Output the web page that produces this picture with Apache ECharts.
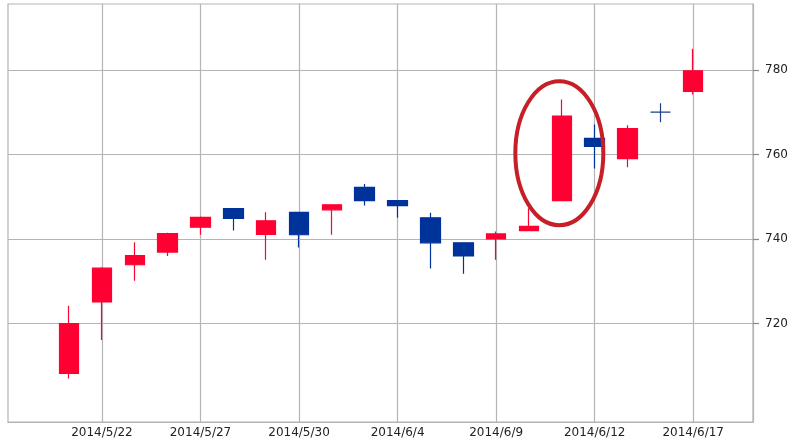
<!DOCTYPE html>
<html>
<head>
<meta charset="utf-8">
<script src="https://cdn.jsdelivr.net/npm/echarts@6/dist/echarts.min.js"></script>
<style>html,body{margin:0;padding:0;background:#fff}#c{width:800px;height:447px}</style>
</head>
<body>
<div id="c"></div>
<script>
// ---- data ----
var dates = ['2014/5/21','2014/5/22','2014/5/23','2014/5/26','2014/5/27','2014/5/28','2014/5/29','2014/5/30',
             '2014/6/2','2014/6/3','2014/6/4','2014/6/5','2014/6/6','2014/6/9','2014/6/10','2014/6/11',
             '2014/6/12','2014/6/13','2014/6/16','2014/6/17'];
var opens  = [708.2,725.1,733.9,736.9,742.8,747.2,741.1,746.3,746.9,752.2,749.1,745.0,739.1,740.0,742.0,749.1,763.8,759.0,770.0,774.9];
var closes = [720.0,733.1,736.1,741.3,745.1,744.9,744.3,741.0,748.1,749.1,747.9,739.1,736.0,741.2,743.0,769.1,761.9,766.1,770.0,779.8];
var lows   = [707.0,716.1,730.1,736.0,741.0,742.0,735.1,738.0,741.0,747.9,745.0,733.0,731.8,735.1,741.9,749.0,756.7,757.0,767.6,774.2];
var highs  = [724.2,733.3,739.2,741.5,745.3,747.3,746.3,746.4,748.2,753.0,749.2,746.2,739.2,741.8,747.3,773.0,767.1,766.9,772.1,785.0];
var xTickIndex = [1,4,7,10,13,16,19];
var yTicks = [720,740,760,780];
// highlighted candle (annotation)
var markIndex = 15;
var markValue = 760.3;

var candleData = [];
for (var i = 0; i < dates.length; i++) {
  candleData.push([i, opens[i], closes[i], lows[i], highs[i]]);
}

var chart = echarts.init(document.getElementById('c'), null, {renderer: 'canvas'});
var gridColor = '#b4b4b4';
var option = {
  animation: false,
  backgroundColor: '#ffffff',
  grid: {left: 8, right: 47, top: 4, bottom: 25, show: true, borderColor: gridColor, borderWidth: 1.2, backgroundColor: 'transparent'},
  xAxis: {
    type: 'value', min: -1.86, max: 20.82,
    axisLine: {show: true, onZero: false, lineStyle: {color: gridColor, width: 1.2}},
    axisTick: {show: false, customValues: xTickIndex},
    axisLabel: {customValues: xTickIndex, color: '#222', fontFamily: 'DejaVu Sans', fontSize: 12, margin: 5,
      formatter: function (v) { return dates[Math.round(v)] || ''; }},
    splitLine: {show: true, lineStyle: {color: gridColor, width: 1.2}}
  },
  yAxis: {
    type: 'value', position: 'right', min: 696.7, max: 795.6, scale: true,
    axisLine: {show: true, onZero: false, lineStyle: {color: gridColor, width: 1.2}},
    axisTick: {show: true, length: 6, customValues: yTicks, lineStyle: {color: '#888', width: 1.2}},
    axisLabel: {customValues: yTicks, color: '#222', fontFamily: 'DejaVu Sans', fontSize: 12, margin: 12},
    splitLine: {show: true, lineStyle: {color: gridColor, width: 1.2}}
  },
  series: [{
    type: 'candlestick',
    data: candleData,
    barWidth: 20,
    encode: {x: 0, y: [1, 2, 3, 4]},
    itemStyle: {
      color: '#ff0033', color0: '#003399',
      borderColor: '#ff0033', borderColor0: '#003399',
      borderColorDoji: '#1f3f88',
      borderWidth: 1.2
    }
  }]
};
chart.setOption(option);

var c = chart.convertToPixel({xAxisIndex: 0, yAxisIndex: 0}, [markIndex, markValue]);
chart.setOption({
  graphic: [{
    type: 'ellipse',
    shape: {cx: c[0] - 2.5, cy: c[1], rx: 44, ry: 72},
    style: {fill: 'none', stroke: '#c61f28', lineWidth: 4},
    z: 100
  }]
});
</script>
</body>
</html>
